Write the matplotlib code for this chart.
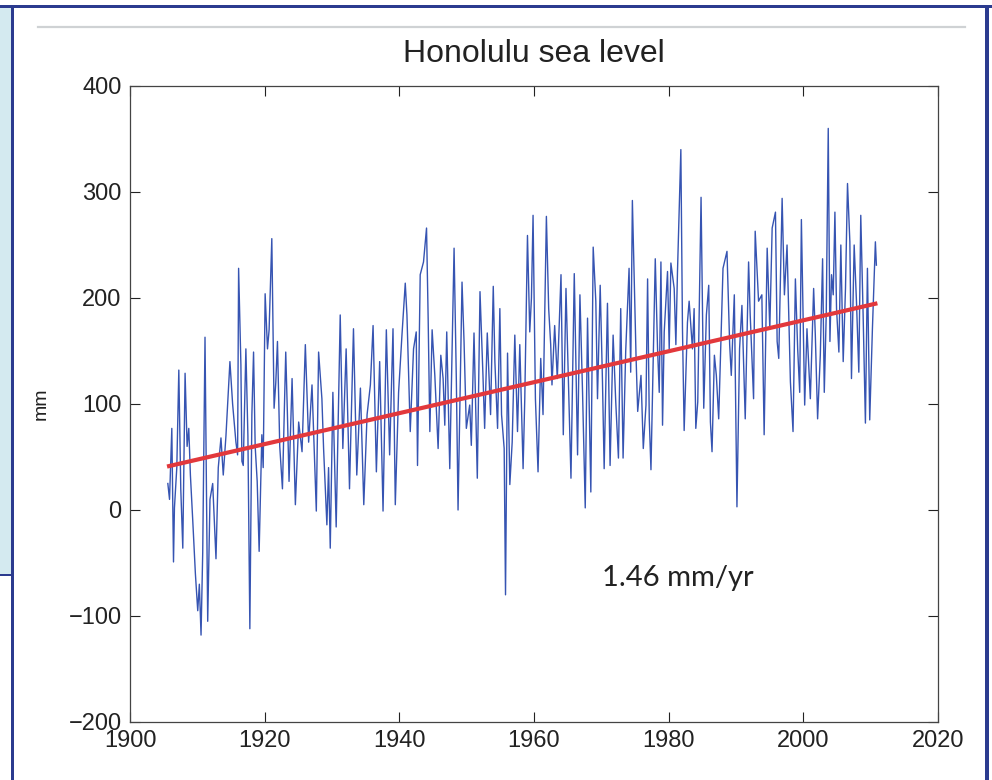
import numpy as np
import matplotlib
matplotlib.use("Agg")
import matplotlib.pyplot as plt
from matplotlib.patches import Rectangle
from matplotlib.lines import Line2D

# monthly-ish sea level readings (year, mm)
years = [
    1905.62, 1905.87, 1906.21, 1906.46, 1906.60, 1906.95, 1907.25, 1907.54, 1907.84, 1908.18,
    1908.48, 1908.73, 1908.97, 1909.32, 1909.71, 1910.06, 1910.30, 1910.55, 1910.80, 1911.14,
    1911.54, 1911.88, 1912.28, 1912.77, 1913.11, 1913.51, 1913.85, 1914.25, 1914.84,
    1915.24, 1915.73, 1915.98, 1916.13, 1916.47, 1916.62, 1916.82, 1917.21, 1917.51, 1917.80,
    1918.10, 1918.35, 1918.59, 1918.89, 1919.18, 1919.58, 1919.78, 1920.07, 1920.42, 1920.66,
    1921.06, 1921.40, 1921.65, 1921.90, 1922.24, 1922.64, 1923.13, 1923.38, 1923.62,
    1924.07, 1924.56, 1925.05, 1925.55, 1926.04, 1926.53, 1927.03, 1927.67, 1928.01, 1928.50,
    1928.75, 1929.24, 1929.49, 1929.74, 1930.13, 1930.62, 1931.22, 1931.61, 1932.10, 1932.60,
    1933.19, 1933.68,
    1934.22, 1934.72, 1935.21, 1935.70, 1936.10, 1936.59, 1937.08, 1937.58, 1938.07, 1938.56,
    1939.06, 1939.40, 1939.89, 1940.39, 1940.88, 1941.13, 1941.62, 1942.11, 1942.51, 1942.70,
    1943.10, 1943.59,
    1944.04, 1944.28, 1944.53, 1944.87, 1945.27, 1945.76, 1946.16, 1946.50, 1946.75, 1947.04,
    1947.49, 1948.13, 1948.47, 1948.72, 1949.31, 1949.61, 1949.95, 1950.45, 1950.69, 1951.09,
    1951.58, 1951.98, 1952.42, 1952.67, 1953.06, 1953.55,
    1953.95, 1954.19, 1954.59, 1954.93, 1955.18, 1955.57, 1955.77, 1956.07, 1956.41, 1956.76,
    1957.15, 1957.55, 1957.89, 1958.38, 1958.63, 1959.03, 1959.37, 1959.62, 1959.86, 1960.21,
    1960.60, 1961.00, 1961.34, 1961.84, 1962.18, 1962.48, 1962.67, 1963.07, 1963.46,
    1964.01, 1964.35, 1964.75, 1964.99, 1965.49, 1965.98, 1966.47, 1966.82, 1967.21, 1967.61,
    1967.95, 1968.44, 1968.79, 1969.18, 1969.43, 1969.83, 1970.17, 1970.42, 1970.91, 1971.30,
    1971.75, 1972.14, 1972.54, 1972.88, 1973.23, 1973.62, 1974.12, 1974.36, 1974.61,
    1975.15, 1975.40, 1975.89, 1976.23, 1976.63, 1976.87, 1977.12, 1977.37, 1977.61, 1978.01,
    1978.35, 1978.60, 1978.85, 1979.09, 1979.34, 1979.83, 1980.08, 1980.33, 1980.82, 1981.07,
    1981.31, 1981.81, 1982.05, 1982.30, 1982.79, 1983.04, 1983.53, 1983.78, 1984.03,
    1984.32, 1984.81, 1985.21, 1985.60, 1985.95, 1986.20, 1986.44, 1986.79, 1987.08, 1987.43,
    1988.07, 1988.66, 1989.06, 1989.30, 1989.75, 1990.14, 1990.53, 1990.88, 1991.13, 1991.37,
    1991.87, 1992.11, 1992.61, 1992.85, 1993.35, 1993.84, 1994.18,
    1994.63, 1995.02, 1995.37, 1995.86, 1996.11, 1996.35, 1996.85, 1997.19, 1997.58, 1998.08,
    1998.47, 1998.82, 1999.16, 1999.46, 1999.71, 2000.20, 2000.54, 2001.04, 2001.53, 2001.78,
    2002.12, 2002.52, 2002.86, 2003.11, 2003.40,
    2003.70, 2003.95, 2004.19, 2004.44, 2004.69, 2004.93, 2005.28, 2005.57, 2005.92, 2006.26,
    2006.56, 2006.91, 2007.15, 2007.55, 2007.89, 2008.24, 2008.53, 2008.88, 2009.22, 2009.52,
    2009.86, 2010.26, 2010.70, 2010.85,
]
sea_level = [
    25, 10, 77, -49, 2, 40, 132, 20, -36, 129,
    60, 77, 33, -10, -60, -95, -70, -118, -40, 163,
    -105, 10, 25, -46, 40, 68, 33, 70, 140,
    100, 64, 52, 228, 137, 46, 42, 152, 70, -112,
    90, 149, 60, 27, -39, 71, 40, 204, 152, 170,
    256, 96, 120, 159, 60, 20, 149, 90, 27,
    124, 5, 83, 55, 156, 64, 118, -1, 149, 105,
    58, -14, 40, -36, 111, -16, 184, 58, 152, 20,
    171, 33,
    115, 5, 90, 118, 174, 36, 140, -1, 170, 52,
    171, 5, 111, 165, 214, 184, 74, 152, 168, 42,
    222, 234,
    266, 181, 74, 170, 127, 58, 146, 124, 80, 168,
    39, 247, 121, 0, 215, 159, 77, 99, 61, 167,
    30, 206, 127, 77, 167, 90,
    211, 140, 77, 190, 90, 58, -80, 148, 24, 64,
    165, 74, 156, 39, 105, 259, 168, 200, 278, 105,
    36, 143, 90, 277, 190, 156, 118, 174, 124,
    222, 71, 209, 152, 30, 223, 52, 203, 111, 2,
    181, 17, 248, 197, 105, 212, 121, 39, 195, 42,
    165, 102, 49, 190, 49, 150, 228, 130, 292,
    146, 93, 127, 58, 99, 218, 86, 38, 111, 237,
    152, 111, 234, 80, 168, 225, 152, 233, 209, 156,
    225, 340, 171, 75, 177, 197, 152, 190, 77,
    102, 295, 96, 184, 212, 83, 55, 146, 127, 86,
    228, 244, 156, 127, 203, 3, 152, 193, 137, 86,
    234, 184, 105, 263, 197, 203, 71,
    247, 171, 266, 281, 159, 143, 294, 203, 250, 121,
    74, 218, 152, 111, 274, 99, 171, 105, 209, 165,
    86, 146, 237, 111, 184,
    360, 159, 222, 203, 281, 190, 149, 250, 140, 209,
    308, 253, 124, 250, 197, 130, 278, 184, 82, 228,
    85, 171, 253, 231,
]

# linear trend shown in red
trend_years = [1905.5, 2011.0]
trend_start = 41.0
trend_rate = 1.46  # mm/yr

x_ticks = [1900, 1920, 1940, 1960, 1980, 2000, 2020]
y_ticks = [-200, -100, 0, 100, 200, 300, 400]

W, H = 992, 780
navy = '#2b3b8f'
pale = '#d4eaf0'

fig = plt.figure(figsize=(W / 100, H / 100), dpi=100)
fig.patch.set_facecolor('white')


def px_rect(x0, y0, w, h, color, z=0):
    # rectangle given in pixel units measured from the top-left corner
    r = Rectangle((x0 / W, 1 - (y0 + h) / H), w / W, h / H,
                  transform=fig.transFigure, facecolor=color,
                  edgecolor='none', zorder=z)
    fig.patches.append(r)


# page decoration around the chart
px_rect(0, 5, 14, 570, pale)
px_rect(0, 574, 14, 2, navy)
px_rect(0, 5, 992, 3, navy)
px_rect(11, 5, 3, 775, navy)
px_rect(985, 5, 4, 775, navy)
fig.lines.append(Line2D([38 / W, 965 / W], [1 - 27 / H, 1 - 27 / H],
                        transform=fig.transFigure, color='#cfd2d4', lw=1.6))

ax = fig.add_axes([130 / W, 1 - 722 / H, (938 - 130) / W, (722 - 86) / H])

ax.plot(years, sea_level, color='#3654b2', lw=1.0)

t = np.array(trend_years)
ax.plot(t, trend_start + trend_rate * (t - t[0]), color='#e2383c', lw=3,
        solid_capstyle='butt')

ax.set_xlim(1900, 2020)
ax.set_ylim(-200, 400)
ax.set_xticks(x_ticks)
ax.set_yticks(y_ticks)

font = 'Liberation Sans'
ax.tick_params(direction='in', top=True, right=True, length=7, width=0.8,
               labelsize=17, colors='#222222', pad=6)
for lab in ax.get_xticklabels() + ax.get_yticklabels():
    lab.set_fontfamily(font)
for sp in ax.spines.values():
    sp.set_color('#444444')
    sp.set_linewidth(0.9)

ax.set_title('Honolulu sea level', fontsize=23, family=font, color='#222222', pad=17)
ax.set_ylabel('mm', fontsize=14, family=font, color='#222222')
ax.yaxis.set_label_coords(-0.1, 0.5)

ax.text(1981.4, -64, '1.46 mm/yr', fontsize=21, family='Lato', color='#222222',
        ha='center', va='center')

fig.savefig('out.png', dpi=100)
